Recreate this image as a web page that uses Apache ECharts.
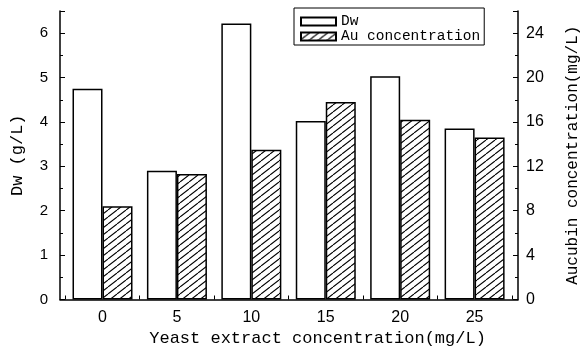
<!DOCTYPE html>
<html>
<head>
<meta charset="utf-8">
<script src="https://cdn.jsdelivr.net/npm/echarts@6/dist/echarts.min.js"></script>
<style>
  html, body { margin: 0; padding: 0; background: #fff; }
  #chart { width: 583px; height: 348px; }
</style>
</head>
<body>
<div id="chart"></div>
<script>
// Yeast extract dose vs. dry weight and aucubin content
const categories = ['0', '5', '10', '15', '20', '25'];
const dwValues = [4.75, 2.9, 6.22, 4.02, 5.03, 3.85];      // g/L
const auValues = [8.4, 11.3, 13.5, 17.8, 16.2, 14.6];      // mg/L
const dwTicks = [0, 1, 2, 3, 4, 5, 6];
const auTicks = [0, 4, 8, 12, 16, 20, 24];

// Diagonal hatch fill for the aucubin bars
function hatchPattern() {
  const w = 9, h = 7;
  const c = document.createElement('canvas');
  c.width = w; c.height = h;
  const g = c.getContext('2d');
  g.fillStyle = '#fff';
  g.fillRect(0, 0, w, h);
  g.strokeStyle = '#000';
  g.lineWidth = 1.1;
  g.beginPath();
  for (let k = -1; k <= 1; k++) {
    g.moveTo(k * w, h);
    g.lineTo(k * w + w, 0);
  }
  g.stroke();
  return c;
}

const monoFont = 'Liberation Mono';
const sansFont = 'Liberation Sans';
const black = '#000';

// inside tick marks shared by the main and half-step axes
function insideTicks(len) {
  return { show: true, inside: true, length: len, lineStyle: { color: black, width: 1 } };
}

const chart = echarts.init(document.getElementById('chart'), null, { renderer: 'canvas' });

chart.setOption({
  animation: false,
  backgroundColor: '#fff',
  legend: {
    orient: 'vertical',
    left: 294,
    top: 8,
    padding: [6, 4, 1, 6],
    itemGap: 0,
    itemWidth: 35,
    itemHeight: 8,
    icon: 'rect',
    borderColor: black,
    borderWidth: 1,
    textStyle: { fontFamily: monoFont, fontSize: 14.5, color: black, lineHeight: 12 },
    data: ['Dw', 'Au concentration']
  },
  grid: [
    { left: 65.3, right: 71.2, top: 11, bottom: 48.5, outerBoundsMode: 'none', containLabel: false },
    { left: 60, right: 65, top: 11, bottom: 48.5, outerBoundsMode: 'none', containLabel: false }
  ],
  xAxis: [
    {
      type: 'category',
      gridIndex: 0,
      data: categories,
      axisLine: { show: false },
      axisTick: insideTicks(4),
      axisLabel: { color: black, fontFamily: sansFont, fontSize: 16, margin: 10 },
      name: 'Yeast extract concentration(mg/L)',
      nameLocation: 'middle',
      nameGap: 25,
      nameTextStyle: { color: black, fontFamily: monoFont, fontSize: 17, padding: [0, 0, 0, 58] }
    },
    {
      type: 'value',
      gridIndex: 1,
      min: 0, max: 1,
      axisLine: { show: true, lineStyle: { color: black, width: 1.5 } },
      axisTick: { show: false },
      axisLabel: { show: false },
      splitLine: { show: false }
    }
  ],
  yAxis: [
    {
      type: 'value',
      gridIndex: 0,
      position: 'left',
      offset: 5.3,
      min: 0, max: 6.5, interval: 1,
      axisLine: { show: true, lineStyle: { color: black, width: 1.5 } },
      axisTick: insideTicks(5),
      axisLabel: {
        color: black, fontFamily: sansFont, fontSize: 15, margin: 12,
        formatter: v => (dwTicks.indexOf(v) >= 0 ? String(v) : '')
      },
      splitLine: { show: false },
      name: 'Dw (g/L)',
      nameLocation: 'middle',
      nameRotate: 90,
      nameGap: 34,
      nameTextStyle: { color: black, fontFamily: monoFont, fontSize: 17 }
    },
    {
      type: 'value',
      gridIndex: 0,
      position: 'right',
      offset: 6.2,
      min: 0, max: 26, interval: 4,
      axisLine: { show: true, lineStyle: { color: black, width: 1.5 } },
      axisTick: insideTicks(5),
      axisLabel: {
        color: black, fontFamily: sansFont, fontSize: 16, margin: 8,
        formatter: v => (auTicks.indexOf(v) >= 0 ? String(v) : '')
      },
      splitLine: { show: false },
      name: 'Aucubin concentration(mg/L)',
      nameLocation: 'middle',
      nameRotate: 90,
      nameGap: 47,
      nameTextStyle: { color: black, fontFamily: monoFont, fontSize: 16 }
    },
    {
      // half-step ticks on the Dw axis
      type: 'value',
      gridIndex: 0,
      position: 'left',
      offset: 5.3,
      min: 0, max: 6.5, interval: 0.5,
      axisLine: { show: false },
      axisTick: insideTicks(3),
      axisLabel: { show: false },
      splitLine: { show: false }
    },
    {
      // half-step ticks on the aucubin axis
      type: 'value',
      gridIndex: 0,
      position: 'right',
      offset: 6.2,
      min: 0, max: 26, interval: 2,
      axisLine: { show: false },
      axisTick: insideTicks(3),
      axisLabel: { show: false },
      splitLine: { show: false }
    },
    {
      type: 'value',
      gridIndex: 1,
      show: false
    }
  ],
  series: [
    {
      name: 'Dw',
      type: 'bar',
      xAxisIndex: 0,
      yAxisIndex: 0,
      data: dwValues,
      barWidth: 30,
      barGap: '0%',
      itemStyle: { color: '#fff', borderColor: black, borderWidth: 1.5 }
    },
    {
      name: 'Au concentration',
      type: 'bar',
      xAxisIndex: 0,
      yAxisIndex: 1,
      data: auValues,
      barWidth: 30,
      barGap: '0%',
      itemStyle: {
        color: { image: hatchPattern(), repeat: 'repeat' },
        borderColor: black,
        borderWidth: 1.5
      }
    }
  ]
});
</script>
</body>
</html>
